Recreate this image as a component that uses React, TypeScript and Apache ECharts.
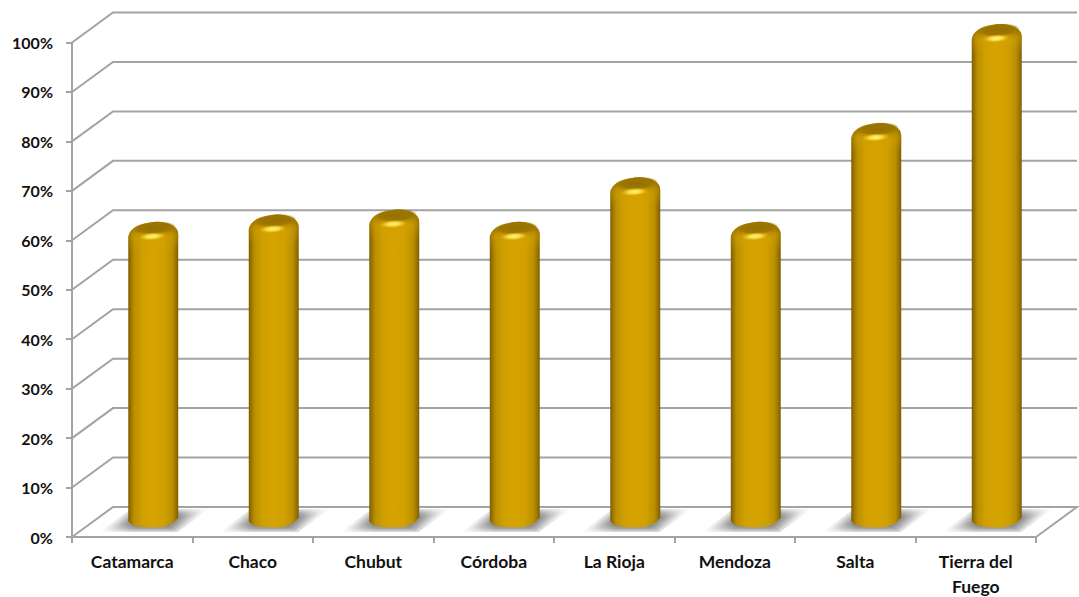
import React, { useEffect, useRef } from "react";
import * as echarts from "echarts";

const categories = ["Catamarca", "Chaco", "Chubut", "Córdoba", "La Rioja", "Mendoza", "Salta", "Tierra del\nFuego"];
const values = [60, 61.5, 62.5, 60, 69, 60, 80, 100];
const gridTicks = [0, 10, 20, 30, 40, 50, 60, 70, 80, 90, 100];

const DX = 41;
const DY = -30;
const LINE = "#a3a3a3";
const FONT = "Lato, Carlito, Calibri, sans-serif";

function grad(x0: number, y0: number, x1: number, y1: number, stops: [number, string][]) {
  return new echarts.graphic.LinearGradient(x0, y0, x1, y1, stops.map(([offset, color]) => ({ offset, color })));
}
function radial(stops: [number, string][]) {
  return new echarts.graphic.RadialGradient(0.5, 0.5, 0.5, stops.map(([offset, color]) => ({ offset, color })));
}

export default function App() {
  const ref = useRef<HTMLDivElement>(null);
  useEffect(() => {
    const chart = echarts.init(ref.current!, undefined, { renderer: "svg" });
    chart.setOption({
      animation: false,
      backgroundColor: "#ffffff",
      grid: { left: 72, right: 43, top: 42.5, bottom: 60, containLabel: false, outerBoundsMode: "none" },
      xAxis: {
        type: "category",
        data: categories,
        boundaryGap: true,
        axisLine: { show: true, lineStyle: { color: LINE, width: 2 } },
        axisTick: { show: true, alignWithLabel: false, length: 6, lineStyle: { color: LINE, width: 2 } },
        axisLabel: { color: "#111111", fontFamily: FONT, fontWeight: "bold", fontSize: 17.5, margin: 12, lineHeight: 25, interval: 0 },
      },
      yAxis: {
        type: "value",
        min: 0,
        max: 100,
        interval: 10,
        splitLine: { show: false },
        axisLine: { show: true, lineStyle: { color: LINE, width: 2 } },
        axisTick: { show: true, length: 6, lineStyle: { color: LINE, width: 2 } },
        axisLabel: { color: "#111111", fontFamily: FONT, fontWeight: "bold", fontSize: 16, margin: 19, formatter: "{value}%" },
      },
      series: [
        {
          type: "custom",
          coordinateSystem: "cartesian2d",
          z: 1,
          silent: true,
          data: gridTicks.map((v) => [0, v]),
          encode: { x: 0, y: 1 },
          clip: false,
          renderItem: (_p: any, api: any) => {
            const v = api.value(1);
            const [x0, y] = api.coord([0, v]);
            const left = x0 - (api.size([1, 0])[0] / 2);
            const right = left + api.size([1, 0])[0] * categories.length;
            const pts = [[left, y], [left + DX, y + DY], [right + DX, y + DY]];
            if (v === 0) pts.push([right, y]);
            return { type: "polyline", shape: { points: pts }, style: { stroke: LINE, lineWidth: 2, fill: "none" } };
          },
        },
        {
          type: "custom",
          coordinateSystem: "cartesian2d",
          z: 3,
          silent: true,
          clip: false,
          data: values.map((v, i) => [i, v]),
          encode: { x: 0, y: 1 },
          renderItem: (_p: any, api: any) => {
            const i = api.value(0);
            const v = api.value(1);
            const [cx0, y0] = api.coord([i, 0]);
            const [, yv] = api.coord([i, v]);
            const cx = cx0 + 21;
            const r = 25;
            const ry = 8.5;
            const by = y0 - 18;
            const top = yv - 18.5;
            const side: [number, string][] = [
              [0, "#7a5c00"], [0.05, "#9a7500"], [0.12, "#bb8f00"], [0.28, "#d0a000"], [0.5, "#d6a400"], [0.72, "#d0a000"], [0.88, "#bb8f00"], [0.95, "#9a7500"], [1, "#7a5c00"],
            ];
            const crown = `M${cx - r} ${top + 15}Q${cx - r + 2} ${top + 4} ${cx - 4} ${top + 1}Q${cx + 4} ${top - 1} ${cx + 12} ${top + 1}Q${cx + r} ${top + 4} ${cx + r} ${top + 13}`;
            const body = `${crown}L${cx + r} ${by - 1}Q${cx + 16} ${by + ry + 2} ${cx - 4} ${by + ry}Q${cx - r + 2} ${by + ry} ${cx - r} ${by + 2}Z`;
            const cap = `${crown}L${cx + r} ${top + 30}L${cx - r} ${top + 30}Z`;
            const layers = [0, 1, 2, 3, 4].map((k) => ({
              type: "polygon",
              shape: {
                points: [
                  [cx - 54 + k * 5, y0 - 5 - k * 1.6],
                  [cx + 24 - k * 3, y0 - 5 - k * 1.6],
                  [cx + 56 - k * 5, y0 - 28 + k * 1.6],
                  [cx - 22 + k * 3, y0 - 28 + k * 1.6],
                ],
              },
              style: { fill: grad(0, 0, 1, 0, [[0, "rgba(90,90,90,0)"], [0.3, "rgba(90,90,90,0.25)"], [0.7, "rgba(90,90,90,0.25)"], [1, "rgba(90,90,90,0)"]]) },
            }));
            return {
              type: "group",
              children: [
                ...layers,
                { type: "path", shape: { pathData: body, x: cx - r, y: top, width: 2 * r, height: by + ry - top }, style: { fill: grad(0, 0, 1, 0, side) } },
                { type: "path", shape: { pathData: cap, x: cx - r, y: top, width: 2 * r, height: 30 }, style: { fill: grad(0, 0, 0, 1, [[0, "rgba(150,112,0,0.95)"], [0.3, "rgba(168,128,0,0.8)"], [0.55, "rgba(212,162,0,0.35)"], [1, "rgba(212,162,0,0)"]]) } },
                { type: "ellipse", originX: cx + 1, originY: top + 6, rotation: 0.07, shape: { cx: cx + 1, cy: top + 6, rx: 22, ry: 6.5 }, style: { fill: radial([[0, "rgba(150,112,0,1)"], [0.7, "rgba(155,117,0,0.9)"], [1, "rgba(160,120,0,0)"]]) } },
                { type: "ellipse", originX: cx - 1, originY: top + 14.5, rotation: 0.07, shape: { cx: cx - 1, cy: top + 14.5, rx: 14, ry: 4 }, style: { fill: radial([[0, "#fff27a"], [0.45, "rgba(255,232,90,0.85)"], [1, "rgba(240,190,20,0)"]]) } },
              ],
            };
          },
        },
      ],
    });
    return () => chart.dispose();
  }, []);
  return <div ref={ref} style={{ position: "fixed", left: 0, top: 0, width: 1079, height: 597 }} />;
}
